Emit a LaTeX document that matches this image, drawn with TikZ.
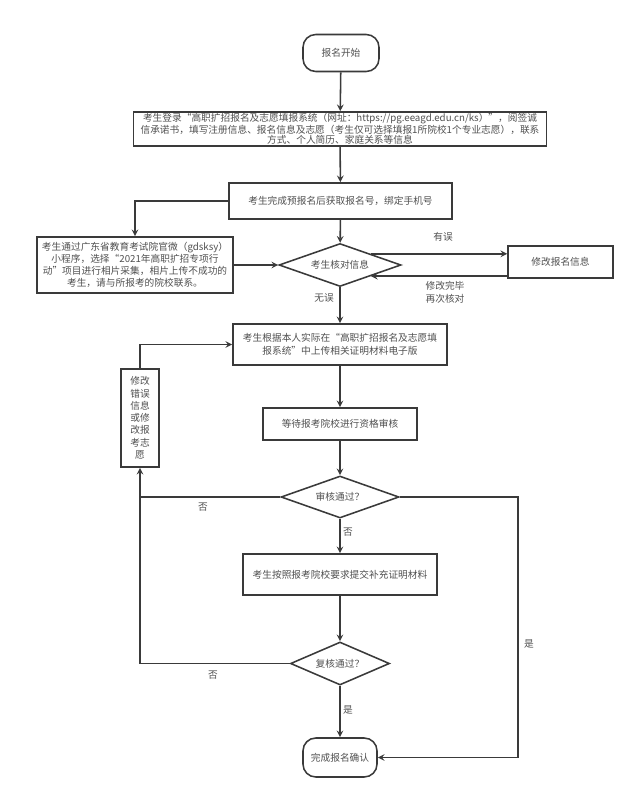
\documentclass[tikz,border=0pt]{standalone}
\usepackage{fontspec}
\setmainfont{Noto Sans CJK SC}
\usepackage{xcolor}
\usetikzlibrary{shapes.geometric, arrows, positioning, calc}
\definecolor{linegray}{HTML}{3A3A3A}
\definecolor{textgray}{HTML}{505050}

\begin{document}
\begin{tikzpicture}[x=0.025cm, y=-0.025cm]
    \tikzstyle{stepbox} = [rectangle, draw=linegray, line width=1.1pt, fill=white, text=textgray, align=center, inner sep=1pt, font=\fontsize{6.9}{8.2}\selectfont]
    \tikzstyle{terminal} = [stepbox, rounded corners=0.32cm]
    \tikzstyle{decision} = [diamond, draw=linegray, line width=1.1pt, fill=white, text=textgray, inner sep=0pt, aspect=2.8, font=\fontsize{6.9}{8.2}\selectfont]
    \tikzstyle{arrow} = [line width=1.1pt, draw=linegray, ->, >=stealth]
    \tikzstyle{line} = [line width=1.1pt, draw=linegray]
    \tikzstyle{tag} = [text=textgray, inner sep=0pt, align=center, font=\fontsize{6.9}{9.5}\selectfont]

    \useasboundingbox (0,0) rectangle (640,800);

    % main column
    \node[terminal, minimum width=1.9cm, minimum height=0.925cm] (start) at (341,53) {报名开始};
    \node[stepbox, minimum width=10.325cm, minimum height=0.85cm, font=\fontsize{6.9}{7.1}\selectfont] (login) at (340,129)
        {考生登录“高职扩招报名及志愿填报系统（网址：https://pg.eeagd.edu.cn/ks）”，阅签诚\\
         信承诺书，填写注册信息、报名信息及志愿（考生仅可选择填报1所院校1个专业志愿），联系\\
         方式、个人简历、家庭关系等信息};
    \node[stepbox, minimum width=5.575cm, minimum height=0.9cm] (confirm) at (340.5,201) {考生完成预报名后获取报名号，绑定手机号};
    \node[decision, minimum width=3.05cm, minimum height=1.075cm] (check) at (340,265) {考生核对信息};
    \node[stepbox, minimum width=5.35cm, minimum height=1.025cm, font=\fontsize{6.9}{9.5}\selectfont] (upload) at (340,344.5)
        {考生根据本人实际在“高职扩招报名及志愿填\\报系统”中上传相关证明材料电子版};
    \node[stepbox, minimum width=3.85cm, minimum height=0.8cm] (wait) at (340,424) {等待报考院校进行资格审核};
    \node[decision, minimum width=2.95cm, minimum height=1.05cm] (review) at (340,497) {审核通过？};
    \node[stepbox, minimum width=4.85cm, minimum height=1.025cm] (supplement) at (340,574.5) {考生按照报考院校要求提交补充证明材料};
    \node[decision, minimum width=2.475cm, minimum height=1.075cm] (recheck) at (340,663.5) {复核通过？};
    \node[terminal, minimum width=1.85cm, minimum height=0.975cm] (done) at (340,757.5) {完成报名确认};

    % side boxes
    \node[stepbox, minimum width=4.9cm, minimum height=1.4cm, font=\fontsize{6.9}{8.4}\selectfont] (photo) at (135,265)
        {考生通过广东省教育考试院官微（gdsksy）\\小程序，选择“2021年高职扩招专项行\\动”项目进行相片采集，相片上传不成功的\\考生，请与所报考的院校联系。};
    \node[stepbox, minimum width=2.625cm, minimum height=0.8cm] (fix) at (560.5,262) {修改报名信息};
    \node[stepbox, minimum width=0.95cm, minimum height=2.45cm, font=\fontsize{6.9}{8.7}\selectfont] (modify) at (140,418)
        {修改\\错误\\信息\\或修\\改报\\考志\\愿};
    \coordinate (yescorner) at (518,757.5);

    \draw[arrow] (start) -- (login);
    \draw[arrow] (login) -- (confirm);
    \draw[arrow] (confirm) -- (check);
    \draw[arrow] (confirm.west) -| (photo.north);
    \draw[arrow] (photo) -- (check);
    \draw[arrow] (check.north east) -- (check.north east -| fix.west);
    \draw[arrow] (check.south east -| fix.west) -- (check.south east);
    \draw[arrow] (check) -- (upload);
    \draw[arrow] (upload) -- (wait);
    \draw[arrow] (wait) -- (review);
    \draw[arrow] (review) -- (supplement);
    \draw[arrow] (supplement) -- (recheck);
    \draw[arrow] (recheck) -- (done);
    \draw[arrow] (review.east) -| (yescorner) -- (done.east);
    \draw[line] (review.west) -- (review.west -| modify.south);
    \draw[arrow] (recheck.west) -| (modify.south);
    \draw[arrow] (modify.north) |- (upload.west);

    \node[tag] (wrong) at (443,237) {有误};
    \node[tag] (fixed) at (445,292.5) {修改完毕\\再次核对};
    \node[tag] (right) at (324,298) {无误};
    \node[tag] (noleft) at (203,507) {否};
    \node[tag] (nodown) at (348,532) {否};
    \node[tag] (yesright) at (529,644) {是};
    \node[tag] (noback) at (213,675) {否};
    \node[tag] (yesdown) at (348,710) {是};
\end{tikzpicture}
\end{document}
